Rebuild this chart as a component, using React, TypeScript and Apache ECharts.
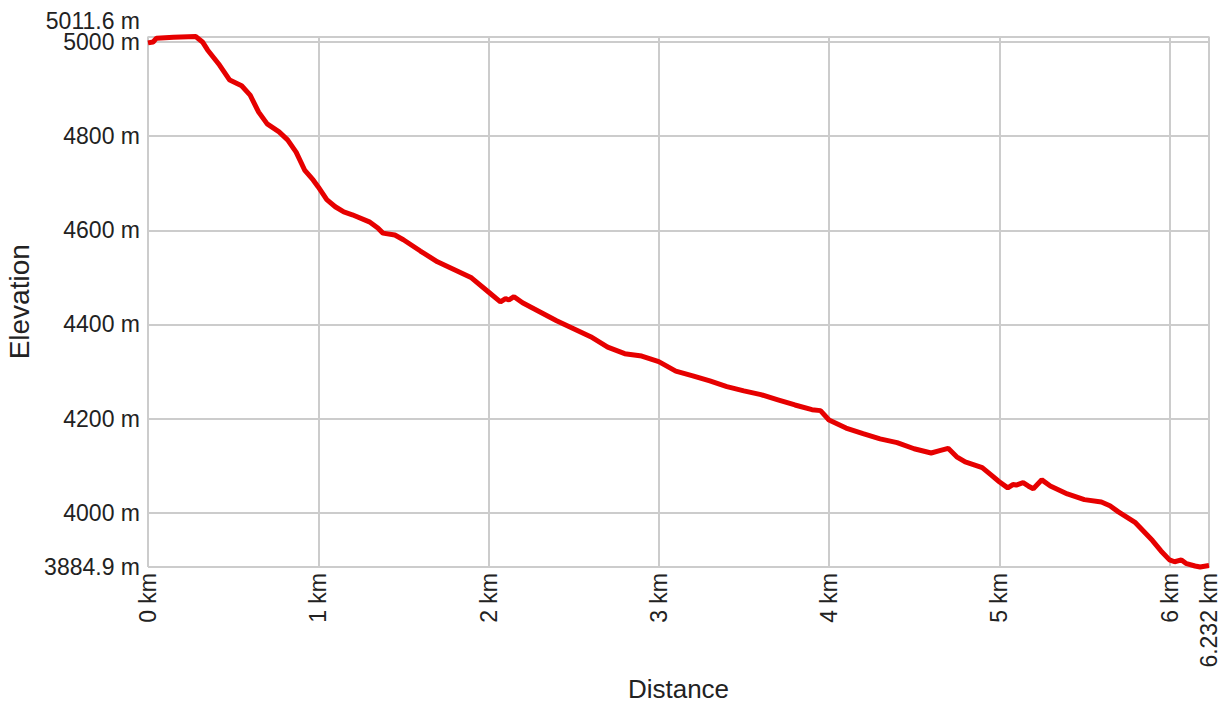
import React, { useEffect, useRef } from "react";
import * as echarts from "echarts";

const distanceKm = [
  0, 0.03, 0.05, 0.15, 0.28, 0.32, 0.35, 0.42, 0.48, 0.55, 0.6, 0.65, 0.7, 0.77, 0.82, 0.87, 0.92, 0.97,
  1.0, 1.05, 1.1, 1.15, 1.2, 1.3, 1.35, 1.38, 1.45, 1.5, 1.6, 1.7, 1.8, 1.9, 2.0, 2.07, 2.1, 2.12,
  2.15, 2.2, 2.3, 2.4, 2.5, 2.6, 2.7, 2.8, 2.9, 3.0, 3.1, 3.2, 3.3, 3.4, 3.5, 3.6, 3.7, 3.8, 3.9,
  3.95, 4.0, 4.1, 4.2, 4.3, 4.4, 4.5, 4.6, 4.65, 4.7, 4.75, 4.8, 4.9, 4.95, 5.0, 5.05, 5.08, 5.1,
  5.14, 5.17, 5.2, 5.25, 5.3, 5.4, 5.5, 5.6, 5.65, 5.7, 5.8, 5.9, 5.95, 6.0, 6.03, 6.07, 6.1, 6.15,
  6.18, 6.232,
];
const elevationM = [
  4998, 5000, 5008, 5010, 5011.6, 5000, 4983, 4951, 4919, 4907, 4887, 4851, 4826, 4809, 4792, 4766,
  4728, 4707, 4692, 4665, 4650, 4639, 4633, 4618, 4605, 4594, 4590, 4580, 4556, 4533, 4516, 4499,
  4469, 4448, 4455, 4452, 4459, 4446, 4427, 4408, 4391, 4374, 4352, 4338, 4333, 4321, 4301, 4291,
  4280, 4268, 4259, 4251, 4240, 4229, 4219, 4217, 4197, 4180, 4168, 4157, 4149, 4136, 4127, 4132,
  4137, 4119, 4108, 4096, 4081, 4066, 4053, 4060, 4059, 4064, 4057, 4051, 4070, 4057, 4040, 4028,
  4023, 4015, 4002, 3979, 3941, 3919, 3900, 3896, 3900, 3892, 3887, 3884.9, 3888,
];
const yMin = 3884.9;
const yMax = 5011.6;
const xMax = 6.232;

export default function App() {
  const ref = useRef<HTMLDivElement>(null);
  useEffect(() => {
    if (!ref.current) return;
    const chart = echarts.init(ref.current, undefined, { renderer: "svg" });
    const font = "'Liberation Sans', Arial, sans-serif";
    chart.setOption({
      animation: false,
      grid: {
        left: 148,
        right: 12,
        top: 36.5,
        bottom: 135,
        containLabel: false,
        outerBoundsMode: "none",
      },
      xAxis: {
        type: "value",
        min: 0,
        max: xMax,
        splitNumber: 6,
        name: "Distance",
        nameLocation: "middle",
        nameGap: 100,
        nameTextStyle: { fontFamily: font, fontSize: 26, color: "#222" },
        axisLine: { show: false },
        axisTick: { show: false },
        splitLine: { show: true, lineStyle: { color: "#cccccc", width: 2 } },
        axisLabel: {
          rotate: 90,
          margin: 6,
          showMinLabel: true,
          showMaxLabel: true,
          hideOverlap: false,
          fontFamily: font,
          fontSize: 23,
          color: "#222",
          formatter: (v: number) => `${+v.toFixed(3)} km`,
        },
      },
      yAxis: [
        {
          type: "value",
          min: yMin,
          max: yMax,
          splitNumber: 5,
          name: "Elevation",
          nameLocation: "middle",
          nameGap: 106,
          nameTextStyle: { fontFamily: font, fontSize: 28, color: "#222" },
          axisLine: { show: false },
          axisTick: { show: false },
          splitLine: { show: true, lineStyle: { color: "#cccccc", width: 2 } },
          axisLabel: {
            margin: 8,
            showMinLabel: true,
            showMaxLabel: false,
            hideOverlap: false,
            fontFamily: font,
            fontSize: 23,
            lineHeight: 22,
            color: "#222",
            formatter: (v: number) => `${+v.toFixed(1)} m`,
          },
        },
        {
          type: "value",
          position: "left",
          min: yMin,
          max: yMax,
          splitNumber: 5,
          axisLine: { show: false },
          axisTick: { show: false },
          splitLine: { show: false },
          axisLabel: {
            margin: 8,
            showMinLabel: false,
            showMaxLabel: true,
            hideOverlap: false,
            verticalAlign: "bottom",
            lineHeight: 22,
            padding: [0, 0, 5, 0],
            fontFamily: font,
            fontSize: 23,
            color: "#222",
            formatter: (v: number) => (v === yMax ? `${v} m` : ""),
          },
        },
      ],
      series: [
        {
          type: "line",
          yAxisIndex: 0,
          data: distanceKm.map((d, i) => [d, elevationM[i]]),
          showSymbol: false,
          lineStyle: { color: "#e60000", width: 5 },
          clip: false,
        },
      ],
    });
    return () => chart.dispose();
  }, []);
  return <div ref={ref} style={{ width: 1221, height: 702, position: "absolute", left: 0, top: 0 }} />;
}
